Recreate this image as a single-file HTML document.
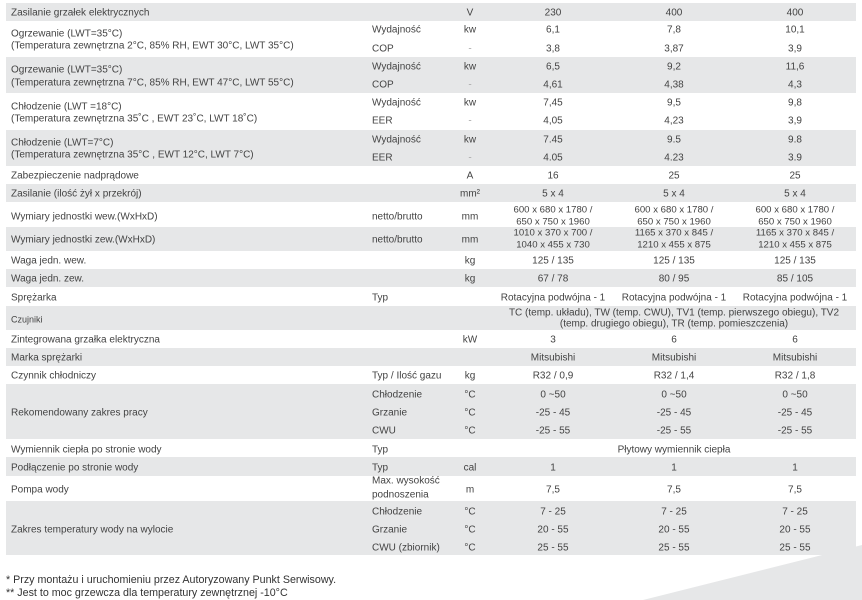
<!DOCTYPE html>
<html><head><meta charset="utf-8">
<style>
html,body{margin:0;padding:0;background:#fff;}
body{width:862px;height:600px;position:relative;overflow:hidden;font-family:"Liberation Sans",Arial,sans-serif;color:#434343;}
.b{position:absolute;left:6px;width:850px;background:#e6e7e8;}
.t{position:absolute;height:12px;line-height:12px;font-size:10px;white-space:nowrap;transform:translateY(1.5px);}
.c{width:240px;text-align:center;}
.d{color:#a8a8a8;}
.f{position:absolute;left:6px;font-size:10.7px;line-height:13px;height:13px;color:#333;white-space:nowrap;transform:translateY(1px);}
</style></head><body>
<!-- bands -->
<div class="b" style="top:3px;height:18px"></div>
<div class="b" style="top:57px;height:36px"></div>
<div class="b" style="top:130px;height:36px"></div>
<div class="b" style="top:184px;height:18px"></div>
<div class="b" style="top:227px;height:24px"></div>
<div class="b" style="top:269px;height:18px"></div>
<div class="b" style="top:306px;height:24px"></div>
<div class="b" style="top:348px;height:18px"></div>
<div class="b" style="top:384px;height:55px"></div>
<div class="b" style="top:457px;height:19px"></div>
<div class="b" style="top:501px;height:54px"></div>
<svg style="position:absolute;left:0;top:0" width="862" height="600"><polygon points="643,600 862,545 862,600" fill="#e6e7e8"/></svg>

<!-- Row1 -->
<div class="t" style="left:11px;top:6px">Zasilanie grzałek elektrycznych</div>
<div class="t c" style="left:350px;top:6px">V</div>
<div class="t c" style="left:433px;top:6px">230</div>
<div class="t c" style="left:554px;top:6px">400</div>
<div class="t c" style="left:675px;top:6px">400</div>

<!-- Row2 -->
<div class="t" style="left:11px;top:26.7px">Ogrzewanie (LWT=35°C)</div>
<div class="t" style="left:11px;top:39px">(Temperatura zewnętrzna 2°C, 85% RH, EWT 30°C, LWT 35°C)</div>
<div class="t" style="left:372px;top:23.3px">Wydajność</div>
<div class="t" style="left:372px;top:42.3px">COP</div>
<div class="t c" style="left:350px;top:23.3px">kw</div>
<div class="t c d" style="left:350px;top:42.3px">-</div>
<div class="t c" style="left:433px;top:23.3px">6,1</div>
<div class="t c" style="left:554px;top:23.3px">7,8</div>
<div class="t c" style="left:675px;top:23.3px">10,1</div>
<div class="t c" style="left:433px;top:42.3px">3,8</div>
<div class="t c" style="left:554px;top:42.3px">3,87</div>
<div class="t c" style="left:675px;top:42.3px">3,9</div>

<!-- Row3 -->
<div class="t" style="left:11px;top:63px">Ogrzewanie (LWT=35°C)</div>
<div class="t" style="left:11px;top:75.7px">(Temperatura zewnętrzna 7°C, 85% RH, EWT 47°C, LWT 55°C)</div>
<div class="t" style="left:372px;top:60px">Wydajność</div>
<div class="t" style="left:372px;top:78.3px">COP</div>
<div class="t c" style="left:350px;top:60px">kw</div>
<div class="t c d" style="left:350px;top:78.3px">-</div>
<div class="t c" style="left:433px;top:60px">6,5</div>
<div class="t c" style="left:554px;top:60px">9,2</div>
<div class="t c" style="left:675px;top:60px">11,6</div>
<div class="t c" style="left:433px;top:78.3px">4,61</div>
<div class="t c" style="left:554px;top:78.3px">4,38</div>
<div class="t c" style="left:675px;top:78.3px">4,3</div>

<!-- Row4 -->
<div class="t" style="left:11px;top:100px">Chłodzenie (LWT =18°C)</div>
<div class="t" style="left:11px;top:112.3px">(Temperatura zewnętrzna 35˚C , EWT 23˚C, LWT 18˚C)</div>
<div class="t" style="left:372px;top:96px">Wydajność</div>
<div class="t" style="left:372px;top:114px">EER</div>
<div class="t c" style="left:350px;top:96px">kw</div>
<div class="t c d" style="left:350px;top:114px">-</div>
<div class="t c" style="left:433px;top:96px">7,45</div>
<div class="t c" style="left:554px;top:96px">9,5</div>
<div class="t c" style="left:675px;top:96px">9,8</div>
<div class="t c" style="left:433px;top:114px">4,05</div>
<div class="t c" style="left:554px;top:114px">4,23</div>
<div class="t c" style="left:675px;top:114px">3,9</div>

<!-- Row5 -->
<div class="t" style="left:11px;top:135.7px">Chłodzenie (LWT=7°C)</div>
<div class="t" style="left:11px;top:148.3px">(Temperatura zewnętrzna 35°C , EWT 12°C, LWT 7°C)</div>
<div class="t" style="left:372px;top:133px">Wydajność</div>
<div class="t" style="left:372px;top:150.7px">EER</div>
<div class="t c" style="left:350px;top:133px">kw</div>
<div class="t c d" style="left:350px;top:150.7px">-</div>
<div class="t c" style="left:433px;top:133px">7.45</div>
<div class="t c" style="left:554px;top:133px">9.5</div>
<div class="t c" style="left:675px;top:133px">9.8</div>
<div class="t c" style="left:433px;top:150.7px">4.05</div>
<div class="t c" style="left:554px;top:150.7px">4.23</div>
<div class="t c" style="left:675px;top:150.7px">3.9</div>

<!-- Row6 -->
<div class="t" style="left:11px;top:169px">Zabezpieczenie nadprądowe</div>
<div class="t c" style="left:350px;top:169px">A</div>
<div class="t c" style="left:433px;top:169px">16</div>
<div class="t c" style="left:554px;top:169px">25</div>
<div class="t c" style="left:675px;top:169px">25</div>

<!-- Row7 -->
<div class="t" style="left:11px;top:187px">Zasilanie (ilość żył x przekrój)</div>
<div class="t c" style="left:350px;top:187px">mm²</div>
<div class="t c" style="left:433px;top:187px">5 x 4</div>
<div class="t c" style="left:554px;top:187px">5 x 4</div>
<div class="t c" style="left:675px;top:187px">5 x 4</div>

<!-- Row8 -->
<div class="t" style="left:11px;top:209.7px">Wymiary jednostki wew.(WxHxD)</div>
<div class="t" style="left:372px;top:209.7px">netto/brutto</div>
<div class="t c" style="left:350px;top:209.7px">mm</div>
<div class="t c" style="left:433px;top:203px;font-size:9.6px">600 x 680 x 1780 /</div>
<div class="t c" style="left:433px;top:214.7px;font-size:9.6px">650 x 750 x 1960</div>
<div class="t c" style="left:554px;top:203px;font-size:9.6px">600 x 680 x 1780 /</div>
<div class="t c" style="left:554px;top:214.7px;font-size:9.6px">650 x 750 x 1960</div>
<div class="t c" style="left:675px;top:203px;font-size:9.6px">600 x 680 x 1780 /</div>
<div class="t c" style="left:675px;top:214.7px;font-size:9.6px">650 x 750 x 1960</div>

<!-- Row9 -->
<div class="t" style="left:11px;top:232.7px">Wymiary jednostki zew.(WxHxD)</div>
<div class="t" style="left:372px;top:232.7px">netto/brutto</div>
<div class="t c" style="left:350px;top:232.7px">mm</div>
<div class="t c" style="left:433px;top:226.3px;font-size:9.6px">1010 x 370 x 700 /</div>
<div class="t c" style="left:433px;top:238.3px;font-size:9.6px">1040 x 455 x 730</div>
<div class="t c" style="left:554px;top:226.3px;font-size:9.6px">1165 x 370 x 845 /</div>
<div class="t c" style="left:554px;top:238.3px;font-size:9.6px">1210 x 455 x 875</div>
<div class="t c" style="left:675px;top:226.3px;font-size:9.6px">1165 x 370 x 845 /</div>
<div class="t c" style="left:675px;top:238.3px;font-size:9.6px">1210 x 455 x 875</div>

<!-- Row10 -->
<div class="t" style="left:11px;top:254px">Waga jedn. wew.</div>
<div class="t c" style="left:350px;top:254px">kg</div>
<div class="t c" style="left:433px;top:254px">125 / 135</div>
<div class="t c" style="left:554px;top:254px">125 / 135</div>
<div class="t c" style="left:675px;top:254px">125 / 135</div>

<!-- Row11 -->
<div class="t" style="left:11px;top:272px">Waga jedn. zew.</div>
<div class="t c" style="left:350px;top:272px">kg</div>
<div class="t c" style="left:433px;top:272px">67 / 78</div>
<div class="t c" style="left:554px;top:272px">80 / 95</div>
<div class="t c" style="left:675px;top:272px">85 / 105</div>

<!-- Row12 -->
<div class="t" style="left:11px;top:290.5px">Sprężarka</div>
<div class="t" style="left:372px;top:290.5px">Typ</div>
<div class="t c" style="left:433px;top:290.5px">Rotacyjna podwójna - 1</div>
<div class="t c" style="left:554px;top:290.5px">Rotacyjna podwójna - 1</div>
<div class="t c" style="left:675px;top:290.5px">Rotacyjna podwójna - 1</div>

<!-- Row13 -->
<div class="t" style="left:11px;top:311.7px;font-size:9px">Czujniki</div>
<div class="t" style="left:474px;width:400px;text-align:center;top:306.3px">TC (temp. układu), TW (temp. CWU), TV1 (temp. pierwszego obiegu), TV2</div>
<div class="t" style="left:474px;width:400px;text-align:center;top:317.3px">(temp. drugiego obiegu), TR (temp. pomieszczenia)</div>

<!-- Row14 -->
<div class="t" style="left:11px;top:333px">Zintegrowana grzałka elektryczna</div>
<div class="t c" style="left:350px;top:333px">kW</div>
<div class="t c" style="left:433px;top:333px">3</div>
<div class="t c" style="left:554px;top:333px">6</div>
<div class="t c" style="left:675px;top:333px">6</div>

<!-- Row15 -->
<div class="t" style="left:11px;top:351px">Marka sprężarki</div>
<div class="t c" style="left:433px;top:351px">Mitsubishi</div>
<div class="t c" style="left:554px;top:351px">Mitsubishi</div>
<div class="t c" style="left:675px;top:351px">Mitsubishi</div>

<!-- Row16 -->
<div class="t" style="left:11px;top:369px">Czynnik chłodniczy</div>
<div class="t" style="left:372px;top:369px">Typ / Ilość gazu</div>
<div class="t c" style="left:350px;top:369px">kg</div>
<div class="t c" style="left:433px;top:369px">R32 / 0,9</div>
<div class="t c" style="left:554px;top:369px">R32 / 1,4</div>
<div class="t c" style="left:675px;top:369px">R32 / 1,8</div>

<!-- Row17 -->
<div class="t" style="left:11px;top:406px">Rekomendowany zakres pracy</div>
<div class="t" style="left:372px;top:388px">Chłodzenie</div>
<div class="t" style="left:372px;top:406px">Grzanie</div>
<div class="t" style="left:372px;top:424px">CWU</div>
<div class="t c" style="left:350px;top:388px">°C</div>
<div class="t c" style="left:350px;top:406px">°C</div>
<div class="t c" style="left:350px;top:424px">°C</div>
<div class="t c" style="left:433px;top:388px">0 ~50</div>
<div class="t c" style="left:554px;top:388px">0 ~50</div>
<div class="t c" style="left:675px;top:388px">0 ~50</div>
<div class="t c" style="left:433px;top:406px">-25 - 45</div>
<div class="t c" style="left:554px;top:406px">-25 - 45</div>
<div class="t c" style="left:675px;top:406px">-25 - 45</div>
<div class="t c" style="left:433px;top:424px">-25 - 55</div>
<div class="t c" style="left:554px;top:424px">-25 - 55</div>
<div class="t c" style="left:675px;top:424px">-25 - 55</div>

<!-- Row18 -->
<div class="t" style="left:11px;top:443px">Wymiennik ciepła po stronie wody</div>
<div class="t" style="left:372px;top:443px">Typ</div>
<div class="t c" style="left:554px;top:443px">Płytowy wymiennik ciepła</div>

<!-- Row19 -->
<div class="t" style="left:11px;top:461px">Podłączenie po stronie wody</div>
<div class="t" style="left:372px;top:461px">Typ</div>
<div class="t c" style="left:350px;top:461px">cal</div>
<div class="t c" style="left:433px;top:461px">1</div>
<div class="t c" style="left:554px;top:461px">1</div>
<div class="t c" style="left:675px;top:461px">1</div>

<!-- Row20 -->
<div class="t" style="left:11px;top:482.7px">Pompa wody</div>
<div class="t" style="left:372px;top:474px">Max. wysokość</div>
<div class="t" style="left:372px;top:488.3px">podnoszenia</div>
<div class="t c" style="left:350px;top:482.7px">m</div>
<div class="t c" style="left:433px;top:482.7px">7,5</div>
<div class="t c" style="left:554px;top:482.7px">7,5</div>
<div class="t c" style="left:675px;top:482.7px">7,5</div>

<!-- Row21 -->
<div class="t" style="left:11px;top:523.3px">Zakres temperatury wody na wylocie</div>
<div class="t" style="left:372px;top:504.7px">Chłodzenie</div>
<div class="t" style="left:372px;top:523.3px">Grzanie</div>
<div class="t" style="left:372px;top:540.7px">CWU (zbiornik)</div>
<div class="t c" style="left:350px;top:504.7px">°C</div>
<div class="t c" style="left:350px;top:523.3px">°C</div>
<div class="t c" style="left:350px;top:540.7px">°C</div>
<div class="t c" style="left:433px;top:504.7px">7 - 25</div>
<div class="t c" style="left:554px;top:504.7px">7 - 25</div>
<div class="t c" style="left:675px;top:504.7px">7 - 25</div>
<div class="t c" style="left:433px;top:523.3px">20 - 55</div>
<div class="t c" style="left:554px;top:523.3px">20 - 55</div>
<div class="t c" style="left:675px;top:523.3px">20 - 55</div>
<div class="t c" style="left:433px;top:540.7px">25 - 55</div>
<div class="t c" style="left:554px;top:540.7px">25 - 55</div>
<div class="t c" style="left:675px;top:540.7px">25 - 55</div>

<!-- Footer -->
<div class="f" style="top:572.5px">* Przy montażu i uruchomieniu przez Autoryzowany Punkt Serwisowy.</div>
<div class="f" style="top:585.5px">** Jest to moc grzewcza dla temperatury zewnętrznej -10°C</div>
</body></html>
